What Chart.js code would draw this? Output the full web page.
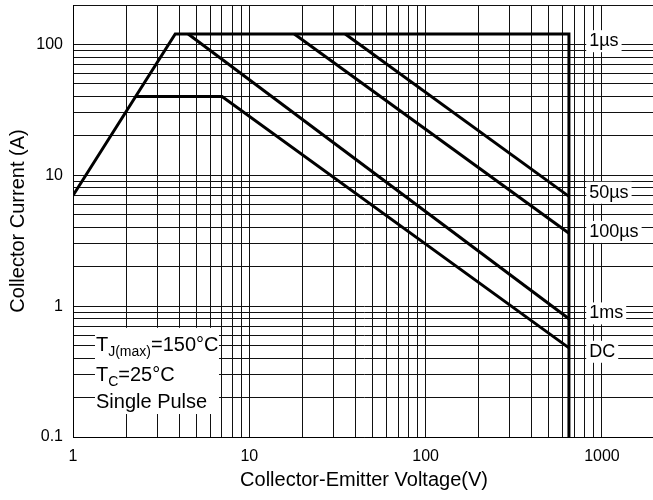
<!DOCTYPE html>
<html><head><meta charset="utf-8">
<script src="https://cdn.jsdelivr.net/npm/chart.js@4/dist/chart.umd.min.js"></script>
<style>html,body{margin:0;padding:0;background:#fff;overflow:hidden}#wrap{width:655px;height:500px;position:relative}</style>
</head><body><div id="wrap"><canvas id="c"></canvas></div>
<script>
// ---- data ----
const envelopeV = [1, 3.8, 650, 650];
const envelopeI = [7, 120, 120, 0.1];
const v50us = [35, 650];
const i50us = [120, 6.9];
const v100us = [18, 650];
const i100us = [120, 3.6];
const v1ms = [4.5, 650];
const i1ms = [120, 0.8];
const vDC = [2.27, 7, 650];
const iDC = [40, 40, 0.48];

const curveLabels = ['1µs', '50µs', '100µs', '1ms', 'DC'];
const curveLabelI = [105.8, 7.35, 3.69, 0.88, 0.448];
const curveLabelV = 847;

const condLines = [['T', 'J(max)', '=150°C'], ['T', 'C', '=25°C'], ['Single Pulse', '', '']];
const condV = 1.35;
const condI = [0.4556, 0.269, 0.1665];

const xGrid = [1,2,3,4,5,6,7,8,9,10,20,30,40,50,60,70,80,90,100,200,300,400,500,600,700,800,900,1000,2000];
const yGrid = [0.1,0.2,0.3,0.4,0.5,0.6,0.7,0.8,0.9,1,2,3,4,5,6,7,8,9,10,20,30,40,50,60,70,80,90,100,200];
const xTickValues = [1, 10, 100, 1000];
const xTickLabels = ['1', '10', '100', '1000'];
const yTickValues = [0.1, 1, 10, 100];
const yTickLabels = ['0.1', '1', '10', '100'];

const FONT = '"Liberation Sans", Arial, Helvetica, sans-serif';
const pts = (xs, ys) => xs.map((v, i) => ({x: v, y: ys[i]}));
const ds = (xs, ys) => ({data: pts(xs, ys), showLine: true, borderColor: '#000', borderWidth: 3, pointRadius: 0, fill: false, borderJoinStyle: 'miter'});
const noPad = s => { s.paddingTop = 0; s.paddingBottom = 0; s.paddingLeft = 0; s.paddingRight = 0; };

const annot = {
  id: 'annot',
  afterDraw(chart) {
    const {ctx, scales: {x, y}} = chart;
    ctx.save();
    ctx.font = '18px ' + FONT;
    ctx.textBaseline = 'middle';
    ctx.textAlign = 'left';
    curveLabels.forEach((t, i) => {
      const px = x.getPixelForValue(curveLabelV), py = y.getPixelForValue(curveLabelI[i]);
      const w = ctx.measureText(t).width;
      ctx.fillStyle = '#fff';
      ctx.fillRect(px - 3, py - 11, w + 6, 22);
      ctx.fillStyle = '#000';
      ctx.fillText(t, px, py);
    });
    const x0 = x.getPixelForValue(condV);
    const b = condI.map(v => y.getPixelForValue(v));
    ctx.fillStyle = '#fff';
    ctx.fillRect(x0 - 1, b[0] - 23, 124, b[2] + 6 - (b[0] - 23));
    ctx.fillStyle = '#000';
    ctx.textBaseline = 'alphabetic';
    condLines.forEach((parts, i) => {
      let cx = x0;
      ctx.font = '20px ' + FONT;
      ctx.fillText(parts[0], cx, b[i]);
      cx += ctx.measureText(parts[0]).width;
      if (parts[1]) {
        ctx.font = '14px ' + FONT;
        ctx.fillText(parts[1], cx, b[i] + 5);
        cx += ctx.measureText(parts[1]).width;
      }
      if (parts[2]) {
        ctx.font = '20px ' + FONT;
        ctx.fillText(parts[2], cx, b[i]);
      }
    });
    ctx.restore();
  }
};

new Chart(document.getElementById('c'), {
  type: 'scatter',
  data: {datasets: [ds(envelopeV, envelopeI), ds(v50us, i50us), ds(v100us, i100us), ds(v1ms, i1ms), ds(vDC, iDC)]},
  options: {
    responsive: true, maintainAspectRatio: false, animation: false,
    layout: {padding: {top: 5, left: 0, right: 0, bottom: 0}},
    plugins: {legend: {display: false}, tooltip: {enabled: false}},
    scales: {
      x: {
        type: 'logarithmic', min: 1, max: 2000,
        afterBuildTicks: s => { s.ticks = xGrid.map(v => ({value: v})); },
        afterFit: s => { s.height = 63; noPad(s); },
        ticks: {autoSkip: false, maxRotation: 0, padding: 10, color: '#000', font: {family: FONT, size: 16},
          callback: v => { const k = xTickValues.indexOf(v); return k >= 0 ? xTickLabels[k] : ''; }},
        grid: {color: '#111', lineWidth: 1, drawTicks: false},
        border: {display: true, color: '#000', width: 1},
        title: {display: true, text: 'Collector-Emitter Voltage(V)', color: '#000', font: {family: FONT, size: 20}, padding: {top: 0, bottom: 8}}
      },
      y: {
        type: 'logarithmic', min: 0.1, max: 200,
        afterBuildTicks: s => { s.ticks = yGrid.map(v => ({value: v})); },
        afterFit: s => { s.width = 73; noPad(s); },
        ticks: {autoSkip: false, padding: 10, color: '#000', font: {family: FONT, size: 16},
          callback: v => { const k = yTickValues.indexOf(v); return k >= 0 ? yTickLabels[k] : ''; }},
        grid: {color: '#111', lineWidth: 1, drawTicks: false},
        border: {display: true, color: '#000', width: 1},
        title: {display: true, text: 'Collector Current (A)', color: '#000', font: {family: FONT, size: 20}, padding: {top: 6, bottom: 0}}
      }
    }
  },
  plugins: [annot]
});
</script></body></html>
